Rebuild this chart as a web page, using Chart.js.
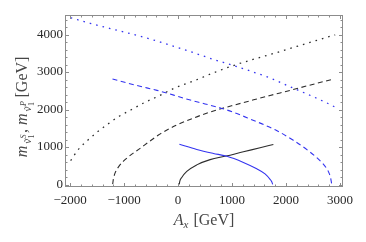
<!DOCTYPE html>
<html>
<head>
<meta charset="utf-8">
<script src="https://cdn.jsdelivr.net/npm/chart.js@4/dist/chart.umd.min.js"></script>
<style>
  html, body { margin: 0; padding: 0; background: #fff; }
  #wrap { width: 366px; height: 242px; }
</style>
</head>
<body>
<div id="wrap"><canvas id="chart" width="366" height="242"></canvas></div>
<script>
// values (A_x in GeV, masses in GeV)
const blueDotX = [-1990, -1630, -1260, -890, -520, -330, 190, 690, 1000, 1370, 1740, 2070, 2410, 2750, 2970];
const blueDotY = [4445, 4300, 4160, 4025, 3880, 3800, 3560, 3320, 3185, 3010, 2820, 2610, 2400, 2180, 2020];

const blackDotX = [-1990, -1850, -1660, -1480, -1290, -1110, -860, -610, -390, -60, 320, 650, 1020, 1360, 1700, 2070, 2410, 2780, 2910];
const blackDotY = [640, 930, 1200, 1420, 1625, 1805, 2000, 2195, 2340, 2575, 2780, 2975, 3170, 3325, 3465, 3625, 3775, 3935, 3990];

const blueDashX = [-1215, -950, -580, -390, -60, 190, 500, 810, 1000, 1180, 1365, 1600, 1800, 2135, 2415, 2640, 2740, 2790, 2825, 2846];
const blueDashY = [2815, 2710, 2578, 2510, 2375, 2267, 2150, 2030, 1940, 1840, 1728, 1590, 1460, 1180, 900, 622, 455, 330, 180, 10];

const blackDashX = [-1212, -1198, -1167, -1106, -1013, -857, -704, -550, -364, -56, 315, 685, 810, 1056, 1364, 1704, 2074, 2414, 2846];
const blackDashY = [10, 150, 310, 465, 622, 810, 965, 1129, 1320, 1565, 1790, 1975, 2028, 2125, 2245, 2375, 2510, 2640, 2800];

const blueSolidX = [24, 346, 654, 890, 1210, 1457, 1611, 1704, 1735, 1752];
const blueSolidY = [1075, 935, 830, 760, 590, 420, 285, 140, 75, 5];

const blackSolidX = [22, 30, 68, 161, 346, 593, 890, 1210, 1519, 1765];
const blackSolidY = [5, 80, 190, 350, 525, 665, 760, 875, 980, 1070];

const xTicks = [-2000, -1000, 0, 1000, 2000, 3000];
const yTicks = [0, 1000, 2000, 3000, 4000];

const BLUE = "rgb(52, 52, 240)";
const BLACK = "rgb(45, 45, 45)";
const FRAME = "rgb(140, 140, 140)";
const SERIF = "'Liberation Serif', 'DejaVu Serif', serif";

function pts(xs, ys) {
  return xs.map((x, i) => ({ x: x, y: ys[i] }));
}

function series(xs, ys, color, dash, width) {
  return {
    data: pts(xs, ys),
    borderColor: color,
    borderWidth: width || 1.1,
    borderDash: dash,
    pointRadius: 0,
    fill: false,
    cubicInterpolationMode: "monotone",
  };
}

// Mathematica-like frame with inward ticks on all four sides
const framePlugin = {
  id: "frame",
  afterDraw(chart) {
    const { ctx, chartArea: a, scales } = chart;
    const sx = scales.x, sy = scales.y;
    ctx.save();
    ctx.strokeStyle = FRAME;
    ctx.lineWidth = 1;
    ctx.strokeRect(a.left + 0.5, a.top + 0.5, a.right - a.left - 1, a.bottom - a.top - 1);
    ctx.beginPath();
    for (let v = -2000; v <= 3000; v += 200) {
      const p = Math.round(sx.getPixelForValue(v)) + 0.5;
      const len = v % 1000 === 0 ? 4 : 2.5;
      ctx.moveTo(p, a.bottom); ctx.lineTo(p, a.bottom - len);
      ctx.moveTo(p, a.top); ctx.lineTo(p, a.top + len);
    }
    for (let v = 0; v <= 4400; v += 200) {
      const p = Math.round(sy.getPixelForValue(v)) + 0.5;
      const len = v % 1000 === 0 ? 4 : 2.5;
      ctx.moveTo(a.left, p); ctx.lineTo(a.left + len, p);
      ctx.moveTo(a.right, p); ctx.lineTo(a.right - len, p);
    }
    ctx.stroke();
    ctx.restore();
  },
};

// draw a run of text pieces starting at x
function drawPieces(ctx, pieces, x, y, measureOnly) {
  let cx = x;
  for (const p of pieces) {
    ctx.font = (p.italic ? "italic " : "") + p.size + "px " + SERIF;
    const w = ctx.measureText(p.text).width;
    if (!measureOnly) {
      ctx.fillText(p.text, cx, y + (p.dy || 0));
      if (p.tilde) {
        ctx.font = p.size + "px " + SERIF;
        const tw = ctx.measureText("\u02DC").width;
        ctx.fillText("\u02DC", cx + w / 2 - tw / 2 + 1, y + (p.dy || 0) + 1);
      }
      if (p.sub) {
        ctx.font = "8px " + SERIF;
        ctx.fillText(p.sub, cx + w + 0.5, y + (p.dy || 0) + 3);
      }
      if (p.sup) {
        ctx.font = "italic 8px " + SERIF;
        ctx.fillText(p.sup, cx + w + 0.5, y + (p.dy || 0) - 5);
      }
    }
    cx += w + (p.extra || 0);
  }
  return cx - x;
}

const titlePlugin = {
  id: "titles",
  afterDraw(chart) {
    const { ctx, chartArea: a } = chart;
    ctx.save();
    ctx.fillStyle = "rgb(70, 70, 70)";
    ctx.textBaseline = "alphabetic";
    ctx.textAlign = "left";

    // x axis title: A_x [GeV]
    const xp = [
      { text: "A", size: 16, italic: true },
      { text: "x", size: 11, italic: true, dy: 3, extra: 5 },
      { text: "[GeV]", size: 16 },
    ];
    const xw = drawPieces(ctx, xp, 0, 0, true);
    drawPieces(ctx, xp, (a.left + a.right) / 2 - xw / 2, 225, false);

    // y axis title: m_{nu~1^S}, m_{nu~1^P} [GeV], rotated
    const yp = [
      { text: "m", size: 16, italic: true, extra: 2 },
      { text: "\u03BD", size: 11, italic: true, dy: 4, tilde: true, sub: "1", sup: "S", extra: 6 },
      { text: ", ", size: 16 },
      { text: "m", size: 16, italic: true, extra: 2 },
      { text: "\u03BD", size: 11, italic: true, dy: 4, tilde: true, sub: "1", sup: "P", extra: 9 },
      { text: "[GeV]", size: 16 },
    ];
    const yw = drawPieces(ctx, yp, 0, 0, true);
    ctx.translate(27, 107);
    ctx.rotate(-Math.PI / 2);
    drawPieces(ctx, yp, -yw / 2, 0, false);
    ctx.restore();
  },
};

const tickFont = { family: SERIF, size: 13 };

new Chart(document.getElementById("chart"), {
  type: "line",
  data: {
    datasets: [
      series(blueDotX, blueDotY, BLUE, [1.6, 5], 1.3),
      series(blackDotX, blackDotY, BLACK, [1.6, 5], 1.3),
      series(blueDashX, blueDashY, BLUE, [5, 3.5]),
      series(blackDashX, blackDashY, BLACK, [5, 3.5]),
      series(blueSolidX, blueSolidY, BLUE, []),
      series(blackSolidX, blackSolidY, BLACK, []),
    ],
  },
  options: {
    responsive: false,
    animation: false,
    layout: { padding: { left: 0, right: 23, top: 15, bottom: 0 } },
    plugins: { legend: { display: false }, tooltip: { enabled: false } },
    scales: {
      x: {
        type: "linear",
        min: -2095,
        max: 3055,
        grid: { display: false, drawTicks: false },
        border: { display: false },
        afterFit: (s) => { s.height = 55; },
        afterBuildTicks: (s) => { s.ticks = xTicks.map((v) => ({ value: v })); },
        ticks: {
          padding: 6,
          color: "rgb(40, 40, 40)",
          font: tickFont,
          maxRotation: 0,
          callback: (v) => String(v).replace("-", "\u2212"),
        },
      },
      y: {
        type: "linear",
        min: -65,
        max: 4520,
        grid: { display: false, drawTicks: false },
        border: { display: false },
        afterFit: (s) => { s.width = 65; },
        afterBuildTicks: (s) => { s.ticks = yTicks.map((v) => ({ value: v })); },
        ticks: {
          padding: 2,
          color: "rgb(40, 40, 40)",
          font: tickFont,
          callback: (v) => String(v),
        },
      },
    },
  },
  plugins: [framePlugin, titlePlugin],
});
</script>
</body>
</html>
